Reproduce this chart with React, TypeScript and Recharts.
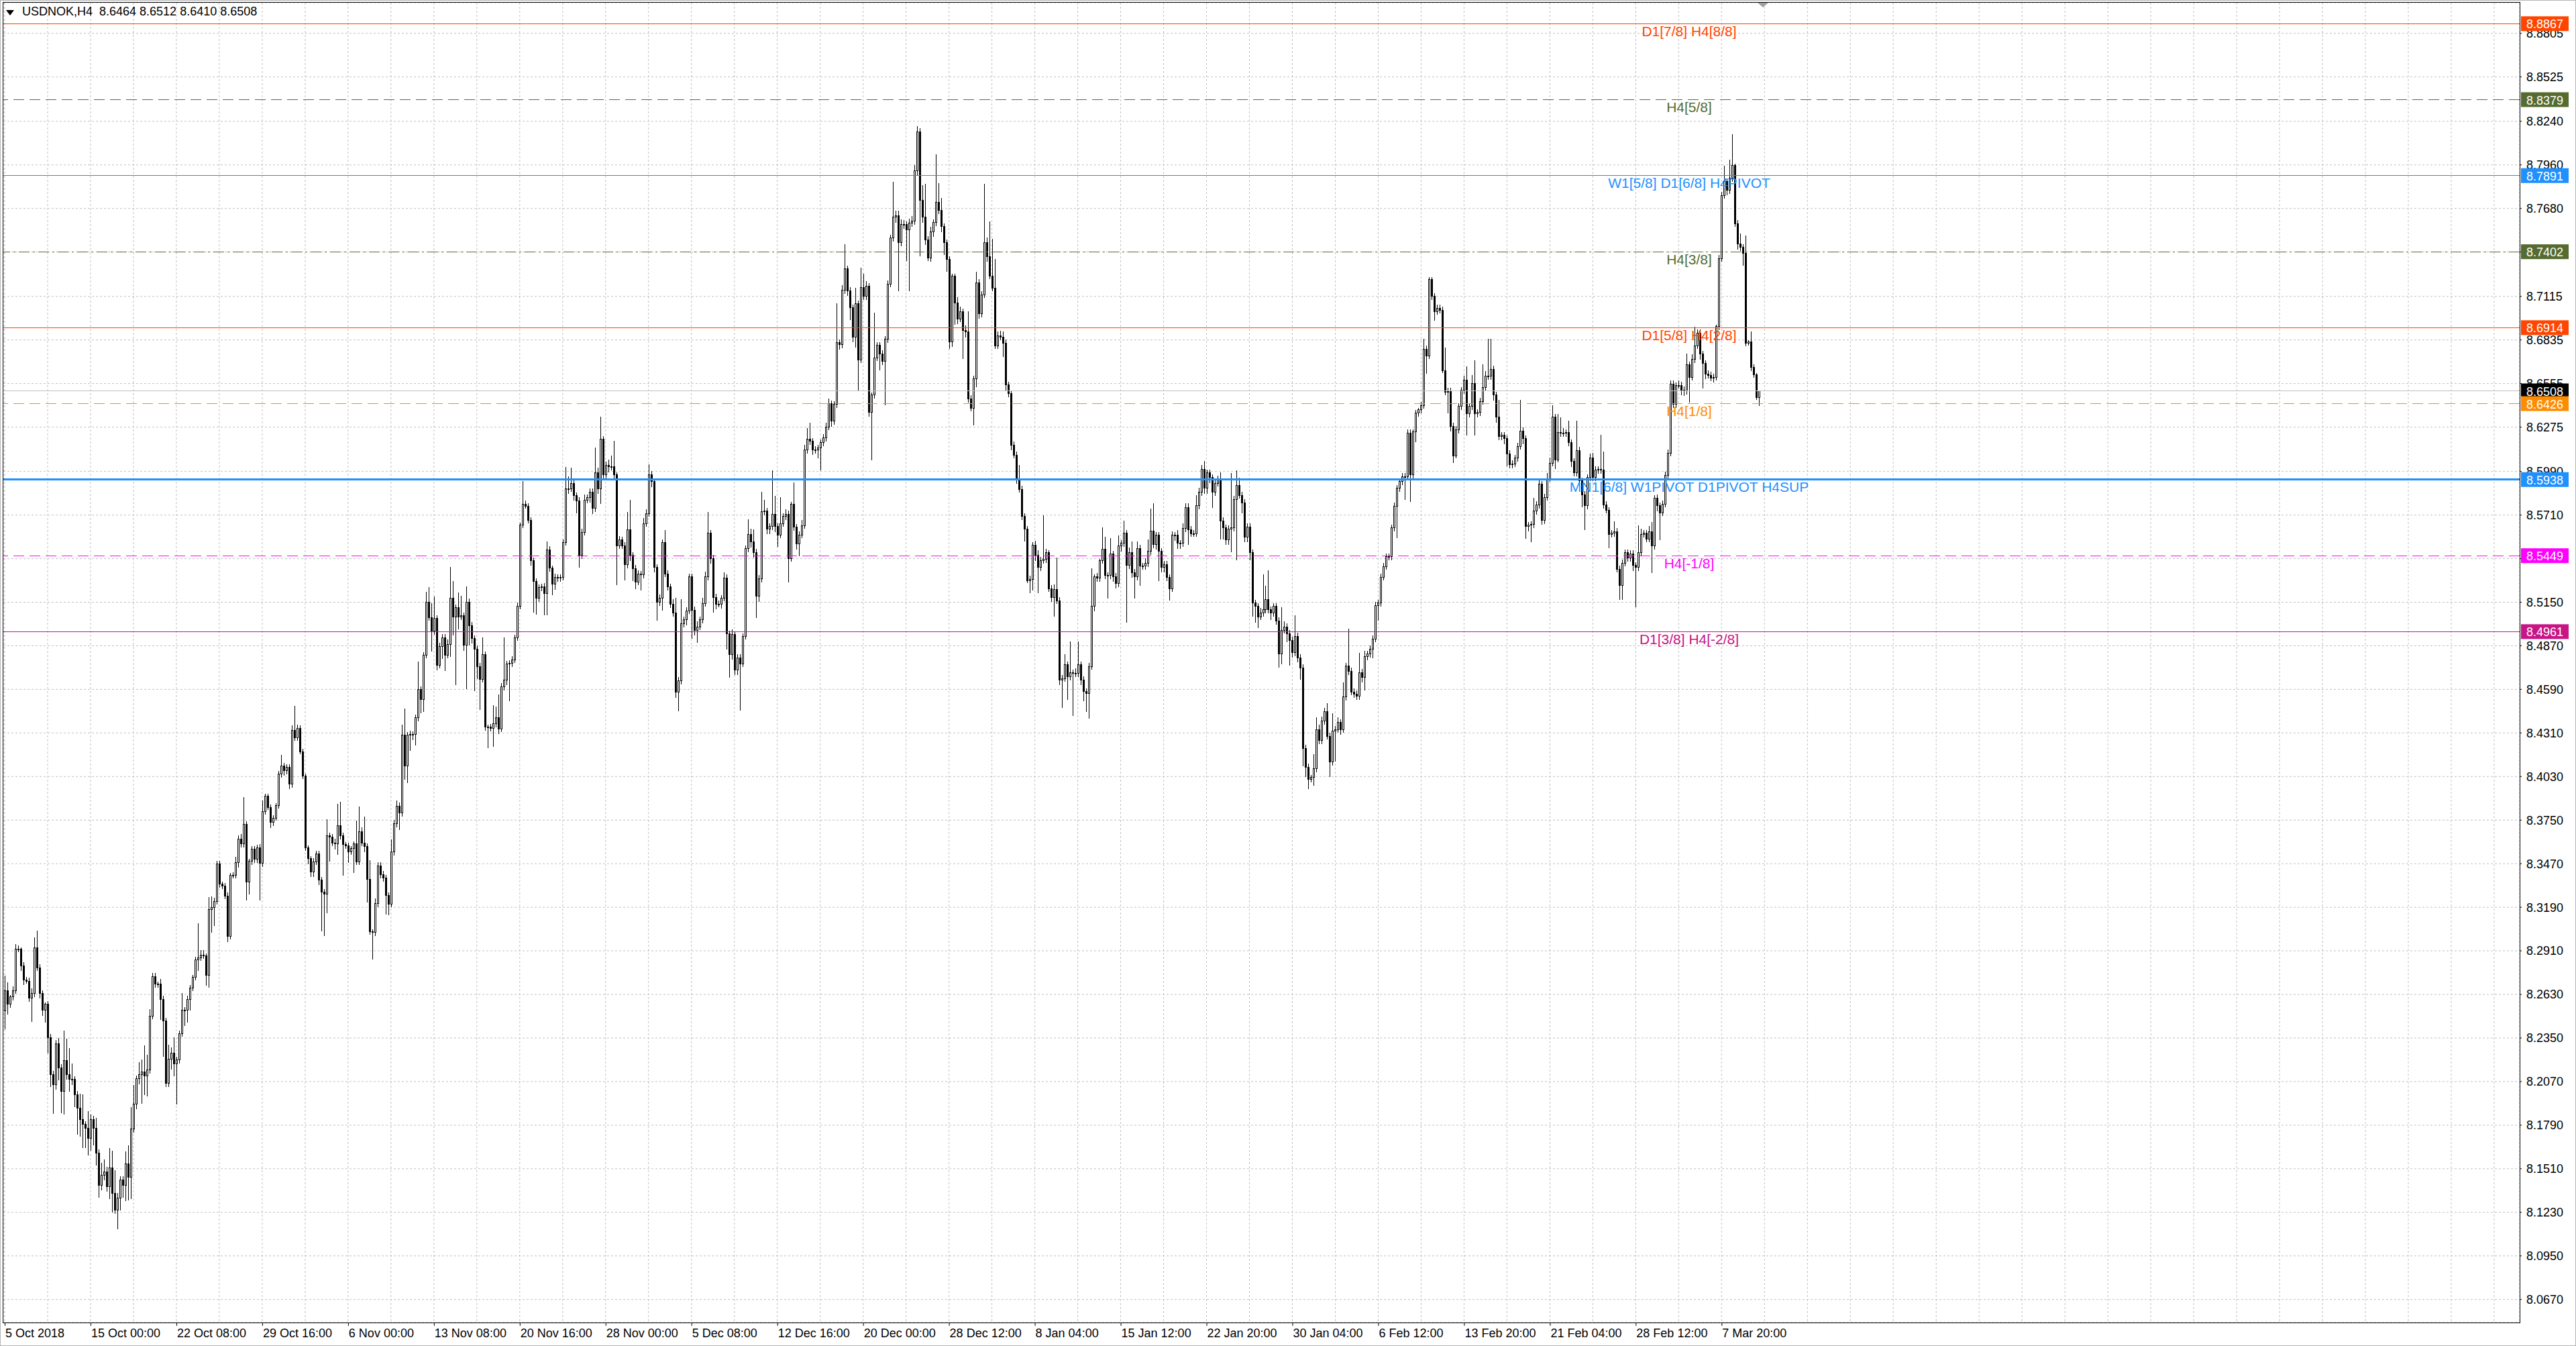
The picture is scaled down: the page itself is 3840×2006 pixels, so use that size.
import { ComposedChart, Bar, XAxis, YAxis, CartesianGrid, ReferenceLine } from 'recharts';

// USDNOK H4, 5 Oct 2018 .. 8 Mar 2019
// prices are kept in pips above 8.0000 (price = 8 + pips / 10000)
const firstOpenPips = 2523;

const closePips = [
  2652, 2566, 2613, 2656, 2920, 2920, 2813, 2723, 2716, 2605, 2637, 2931, 2802, 2637, 2528, 2566, 2352, 2116, 2051, 2315, // 0
  2159, 2008, 2206, 2116, 2084, 2084, 1987, 1901, 1826, 1794, 1772, 1704, 1826, 1772, 1612, 1404, 1468, 1489, 1397, 1515, // 20
  1350, 1243, 1322, 1440, 1404, 1541, 1457, 1766, 1927, 2088, 2116, 2133, 2105, 2144, 2491, 2744, 2695, 2695, 2598, 2459, // 40
  2058, 2216, 2255, 2186, 2208, 2377, 2528, 2528, 2598, 2669, 2738, 2851, 2866, 2881, 2877, 2755, 3177, 3188, 3227, 3467, // 60
  3338, 3328, 3263, 3002, 3396, 3396, 3478, 3628, 3596, 3724, 3353, 3484, 3564, 3499, 3574, 3473, 3804, 3902, 3832, 3735, // 80
  3763, 3842, 4046, 4100, 4068, 4089, 3982, 4325, 4278, 4340, 4190, 4035, 3574, 3501, 3418, 3483, 3535, 3366, 3287, 3276, // 100
  3648, 3643, 3603, 3596, 3716, 3648, 3592, 3587, 3546, 3569, 3596, 3483, 3677, 3603, 3580, 3371, 3035, 3028, 3213, 3456, // 120
  3400, 3377, 3265, 3208, 3546, 3727, 3840, 3795, 4295, 4099, 4295, 4302, 4300, 4408, 4588, 4527, 4809, 5148, 5053, 4963, // 140
  5046, 4746, 4866, 4922, 4809, 4877, 5175, 5057, 5114, 5057, 5062, 4872, 5152, 5001, 4918, 4850, 4737, 4656, 4814, 4347, // 160
  4347, 4340, 4370, 4408, 4336, 4607, 4652, 4753, 4757, 4780, 4922, 5125, 5644, 5779, 5768, 5677, 5418, 5283, 5175, 5244, // 180
  5249, 5204, 5486, 5368, 5265, 5310, 5305, 5310, 5535, 5880, 5880, 5914, 5835, 5801, 5452, 5599, 5806, 5824, 5858, 5752, // 200
  5982, 5880, 6198, 5967, 6030, 6020, 6023, 5967, 5514, 5553, 5514, 5390, 5616, 5451, 5366, 5281, 5332, 5326, 5656, 5721, // 220
  5971, 5924, 5376, 5149, 5178, 5533, 5332, 5248, 5135, 5080, 4571, 4646, 5011, 5036, 5096, 5313, 5100, 4971, 4991, 5036, // 240
  5143, 5313, 5593, 5431, 5182, 5139, 5139, 5178, 5307, 4946, 4814, 4942, 4715, 4794, 4755, 4932, 5494, 5587, 5537, 5470, // 260
  5188, 5301, 5731, 5735, 5622, 5636, 5715, 5636, 5583, 5656, 5701, 5715, 5431, 5780, 5632, 5524, 5583, 5642, 6129, 6198, // 280
  6184, 6129, 6129, 6141, 6176, 6206, 6277, 6425, 6313, 6421, 6819, 6805, 7154, 7292, 7150, 7042, 6855, 7068, 6707, 7174, // 300
  7115, 7180, 6372, 6480, 6721, 6800, 6747, 6697, 6839, 7194, 7490, 7623, 7633, 7460, 7576, 7576, 7543, 7584, 7597, 7924, // 320
  8174, 7731, 7623, 7478, 7362, 7530, 7589, 7718, 7666, 7563, 7460, 7352, 6824, 7246, 7074, 6971, 7015, 6894, 6886, 6456, // 340
  6396, 6584, 7203, 7004, 7125, 7460, 7370, 7246, 7169, 6798, 6860, 6855, 6816, 6546, 6489, 6159, 6095, 5933, 5876, 5701, // 360
  5619, 5289, 5297, 5515, 5451, 5374, 5418, 5425, 5469, 5237, 5181, 5232, 5160, 4652, 4660, 4748, 4671, 4696, 4691, 4691, // 380
  4748, 4652, 4575, 4562, 4737, 5124, 5314, 5304, 5418, 5490, 5322, 5322, 5459, 5314, 5271, 5510, 5528, 5593, 5387, 5469, // 400
  5340, 5314, 5495, 5381, 5381, 5399, 5477, 5606, 5521, 5580, 5477, 5374, 5392, 5309, 5237, 5580, 5580, 5528, 5528, 5624, // 420
  5760, 5617, 5591, 5591, 5771, 5855, 6002, 5881, 5980, 5951, 5855, 5914, 5942, 5672, 5628, 5552, 5622, 5628, 5811, 5898, // 440
  5837, 5789, 5569, 5635, 5468, 5145, 5123, 5057, 5079, 5101, 5167, 5101, 5079, 5123, 5029, 4816, 4970, 4991, 4948, 4904, // 460
  4827, 4932, 4794, 4728, 4212, 4091, 4014, 4024, 4079, 4330, 4260, 4387, 4449, 4289, 4124, 4322, 4333, 4377, 4333, 4541, // 480
  4739, 4706, 4574, 4559, 4546, 4699, 4669, 4800, 4816, 4849, 4915, 5130, 5145, 5310, 5380, 5442, 5442, 5628, 5767, 5881, // 500
  5925, 5958, 5958, 6237, 5969, 6244, 6364, 6386, 6415, 6775, 6733, 7225, 7115, 7018, 7040, 7027, 6638, 6500, 6505, 6280, // 520
  6089, 6258, 6408, 6511, 6579, 6360, 6408, 6557, 6360, 6369, 6441, 6529, 6602, 6602, 6646, 6481, 6339, 6214, 6222, 6201, // 540
  6104, 6032, 6039, 6076, 6152, 6251, 6201, 5637, 5644, 5648, 5736, 5775, 5907, 5674, 5823, 5944, 6043, 6339, 6065, 6240, // 560
  6236, 6236, 6240, 6174, 6054, 5981, 6126, 5929, 5841, 5769, 5950, 6076, 5950, 5999, 6003, 5999, 5775, 5740, 5587, 5593, // 580
  5604, 5363, 5258, 5402, 5468, 5433, 5461, 5385, 5374, 5468, 5586, 5593, 5556, 5604, 5512, 5819, 5769, 5725, 5780, 5966, // 600
  6108, 6551, 6420, 6543, 6543, 6514, 6508, 6674, 6595, 6711, 6799, 6880, 6744, 6683, 6617, 6608, 6591, 6595, 6920, 7358, // 620
  7764, 7852, 7797, 7874, 7955, 7582, 7451, 7429, 7391, 6815, 6821, 6658, 6613, 6464, 6508, // 640
];

// wick lengths above / below the body, in pips
const upperWickPips = [
  97, 54, 14, 25, 32, 25, 14, 22, 18, 22, 34, 64, 110, 22, 18, 14, 22, 22, 22, 22,
  34, 22, 190, 140, 170, 100, 22, 22, 90, 160, 22, 110, 34, 22, 64, 22, 80, 80, 34, 130,
  110, 150, 34, 22, 22, 80, 120, 140, 120, 22, 80, 80, 170, 100, 45, 25, 22, 18, 34, 22,
  22, 90, 34, 100, 22, 22, 110, 22, 22, 22, 18, 22, 220, 34, 34, 18, 80, 70, 22, 22,
  22, 18, 18, 22, 14, 18, 34, 22, 34, 175, 18, 18, 18, 18, 18, 22, 70, 18, 18, 18,
  18, 18, 18, 70, 18, 18, 18, 34, 160, 22, 18, 18, 14, 14, 18, 22, 18, 18, 18, 18,
  106, 22, 18, 28, 140, 150, 22, 18, 18, 14, 18, 150, 160, 28, 170, 22, 120, 14, 34, 22,
  22, 22, 22, 22, 80, 22, 34, 22, 70, 170, 22, 22, 18, 18, 180, 22, 18, 70, 100, 90,
  140, 22, 22, 22, 22, 34, 200, 110, 22, 100, 130, 22, 100, 22, 22, 18, 22, 22, 110, 18,
  18, 22, 120, 70, 150, 22, 270, 18, 18, 22, 18, 22, 18, 150, 22, 18, 18, 18, 18, 22,
  18, 22, 55, 22, 18, 22, 18, 18, 18, 140, 80, 100, 22, 22, 22, 22, 34, 18, 22, 22,
  160, 34, 144, 18, 22, 34, 70, 165, 18, 22, 18, 22, 115, 190, 22, 22, 22, 18, 34, 25,
  65, 22, 18, 18, 22, 18, 80, 22, 22, 34, 100, 22, 158, 22, 22, 22, 22, 22, 34, 22,
  34, 34, 138, 22, 22, 22, 22, 18, 34, 22, 22, 34, 22, 22, 22, 18, 22, 95, 34, 80,
  22, 22, 128, 71, 22, 22, 282, 120, 22, 170, 22, 34, 22, 14, 138, 22, 22, 34, 34, 69,
  105, 22, 22, 18, 18, 22, 26, 35, 22, 22, 250, 18, 34, 158, 22, 22, 22, 103, 22, 124,
  85, 34, 22, 18, 288, 22, 22, 22, 22, 22, 22, 230, 34, 34, 34, 28, 22, 28, 34, 34,
  33, 22, 100, 216, 22, 34, 22, 309, 124, 80, 22, 22, 22, 14, 14, 34, 34, 22, 34, 134,
  22, 22, 70, 22, 22, 379, 34, 227, 240, 188, 28, 34, 34, 22, 22, 22, 22, 22, 100, 22,
  22, 22, 22, 22, 28, 34, 22, 283, 22, 14, 22, 34, 206, 22, 22, 67, 22, 200, 22, 34,
  150, 22, 22, 22, 22, 242, 14, 22, 10, 142, 80, 22, 103, 22, 22, 70, 22, 82, 22, 34,
  72, 22, 46, 22, 22, 34, 77, 147, 180, 22, 22, 22, 22, 22, 22, 26, 22, 34, 22, 34,
  28, 28, 22, 22, 66, 28, 29, 55, 22, 22, 22, 22, 22, 44, 22, 22, 22, 350, 22, 97,
  53, 22, 22, 22, 22, 22, 22, 22, 34, 230, 88, 187, 22, 22, 22, 22, 147, 34, 22, 22,
  22, 136, 22, 22, 22, 22, 22, 18, 94, 81, 34, 28, 22, 53, 22, 114, 22, 34, 22, 92,
  22, 242, 22, 22, 22, 127, 22, 37, 22, 22, 22, 22, 22, 22, 22, 22, 22, 22, 22, 22,
  22, 22, 22, 22, 22, 15, 22, 11, 22, 68, 22, 13, 13, 22, 22, 22, 22, 147, 22, 22,
  22, 22, 22, 22, 26, 88, 22, 53, 147, 22, 22, 150, 34, 241, 197, 22, 22, 110, 22, 22,
  22, 22, 22, 22, 22, 197, 22, 22, 22, 22, 83, 22, 31, 22, 22, 34, 34, 77, 22, 121,
  96, 34, 22, 77, 22, 22, 191, 22, 22, 22, 22, 28, 34, 22, 22, 224, 121, 22, 22, 22,
  66, 22, 22, 22, 22, 22, 22, 22, 22, 175, 34, 22, 22, 34, 61, 18, 22, 22, 22, 22,
  22, 22, 22, 18, 31, 22, 22, 75, 22, 34, 121, 22, 22, 22, 22, 22, 22, 22, 14, 22,
  22, 103, 22, 121, 204, 14, 22, 66, 22, 116, 14, 70, 22, 10, 4,
];

const lowerWickPips = [
  118, 64, 22, 22, 22, 18, 34, 34, 18, 22, 150, 22, 22, 34, 34, 80, 100, 80, 190, 34,
  80, 140, 150, 34, 80, 34, 80, 170, 110, 150, 130, 110, 80, 110, 80, 80, 34, 34, 34, 80,
  120, 22, 120, 80, 80, 100, 150, 140, 22, 34, 34, 190, 120, 130, 22, 22, 22, 22, 130, 230,
  22, 22, 70, 80, 264, 22, 18, 100, 80, 70, 18, 18, 70, 22, 18, 70, 80, 150, 120, 18,
  22, 22, 22, 34, 18, 22, 22, 34, 22, 22, 120, 80, 22, 22, 22, 240, 22, 18, 18, 34,
  22, 18, 18, 22, 34, 22, 34, 22, 18, 18, 18, 22, 22, 34, 34, 34, 22, 34, 250, 270,
  124, 160, 22, 34, 70, 22, 200, 22, 70, 18, 160, 22, 22, 22, 34, 150, 22, 175, 22, 22,
  22, 22, 120, 70, 18, 22, 22, 110, 22, 90, 110, 100, 34, 70, 22, 90, 80, 18, 22, 130,
  22, 34, 22, 80, 100, 18, 80, 120, 440, 80, 22, 34, 280, 130, 34, 270, 80, 200, 22, 22,
  135, 22, 120, 22, 34, 22, 22, 34, 240, 22, 22, 22, 22, 18, 18, 22, 34, 200, 105, 22,
  22, 140, 140, 22, 70, 34, 22, 22, 22, 22, 34, 22, 34, 80, 80, 22, 22, 22, 34, 34,
  22, 34, 100, 34, 22, 34, 22, 22, 256, 22, 22, 100, 22, 34, 80, 47, 22, 100, 22, 22,
  22, 34, 34, 118, 22, 80, 22, 22, 22, 22, 34, 120, 22, 22, 34, 22, 187, 34, 80, 22,
  22, 22, 22, 34, 100, 34, 22, 28, 22, 100, 148, 34, 34, 34, 300, 22, 22, 22, 34, 34,
  138, 34, 22, 22, 34, 34, 22, 34, 79, 22, 22, 22, 154, 22, 22, 34, 80, 22, 22, 22,
  22, 34, 22, 55, 144, 22, 22, 22, 34, 22, 22, 34, 22, 22, 34, 80, 34, 70, 197, 22,
  22, 22, 28, 310, 22, 22, 108, 22, 280, 22, 22, 22, 34, 310, 22, 28, 200, 395, 22, 22,
  34, 360, 34, 34, 18, 22, 34, 22, 22, 34, 80, 80, 46, 34, 140, 34, 22, 180, 34, 22,
  18, 108, 52, 34, 22, 22, 34, 22, 22, 22, 22, 22, 90, 34, 22, 34, 22, 22, 22, 22,
  80, 18, 82, 70, 34, 167, 22, 22, 22, 22, 28, 124, 22, 34, 180, 22, 147, 22, 270, 22,
  22, 34, 59, 116, 160, 22, 34, 22, 22, 22, 22, 147, 22, 34, 34, 22, 34, 22, 368, 22,
  34, 139, 22, 124, 22, 22, 22, 22, 22, 34, 193, 34, 34, 22, 77, 22, 34, 34, 34, 22,
  22, 100, 22, 22, 22, 22, 22, 34, 34, 34, 100, 22, 22, 120, 77, 33, 34, 150, 22, 390,
  22, 66, 34, 34, 48, 88, 103, 72, 22, 22, 22, 22, 44, 22, 22, 88, 66, 22, 55, 160,
  34, 22, 28, 77, 114, 66, 66, 22, 55, 22, 22, 22, 22, 22, 99, 22, 198, 22, 34, 22,
  22, 22, 22, 22, 22, 22, 34, 88, 22, 22, 61, 22, 100, 22, 22, 22, 22, 22, 22, 204,
  22, 22, 150, 22, 176, 22, 66, 22, 22, 22, 116, 22, 22, 61, 22, 22, 15, 22, 136, 34,
  44, 14, 22, 22, 22, 138, 22, 22, 138, 22, 22, 22, 22, 22, 22, 34, 34, 22, 22, 34,
  80, 22, 22, 22, 22, 22, 34, 81, 34, 110, 22, 22, 22, 28, 22, 22, 22, 22, 61, 18,
  22, 22, 22, 22, 34, 22, 22, 34, 79, 154, 22, 22, 22, 22, 22, 22, 22, 18, 92, 22,
  22, 22, 92, 92, 22, 22, 22, 34, 257, 22, 22, 22, 22, 22, 175, 22, 34, 175, 22, 22,
  22, 22, 22, 22, 22, 34, 34, 22, 162, 22, 22, 22, 34, 158, 34, 22, 22, 28, 22, 22,
  22, 22, 34, 22, 22, 22, 34, 22, 81, 22, 14, 22, 22, 15, 54,
];

const timeLabels = [
  '5 Oct 2018', '15 Oct 00:00', '22 Oct 08:00', '29 Oct 16:00', '6 Nov 00:00', '13 Nov 08:00',
  '20 Nov 16:00', '28 Nov 00:00', '5 Dec 08:00', '12 Dec 16:00', '20 Dec 00:00', '28 Dec 12:00',
  '8 Jan 04:00', '15 Jan 12:00', '22 Jan 20:00', '30 Jan 04:00', '6 Feb 12:00', '13 Feb 20:00',
  '21 Feb 04:00', '28 Feb 12:00', '7 Mar 20:00',
];

const priceTicks = [
  8.067, 8.095, 8.123, 8.151, 8.179, 8.207, 8.235, 8.263, 8.291, 8.319, 8.347, 8.375, 8.403, 8.431, 8.459,
  8.487, 8.515, 8.543, 8.571, 8.599, 8.6275, 8.6555, 8.6835, 8.7115, 8.74, 8.768, 8.796, 8.824, 8.8525, 8.8805,
];

// murrey math levels drawn by the indicator
const levelPrices = [8.8867, 8.8379, 8.7891, 8.7402, 8.6914, 8.6426, 8.5938, 8.5449, 8.4961];
const levelNames = [
  'D1[7/8] H4[8/8]', 'H4[5/8]', 'W1[5/8] D1[6/8] H4PIVOT', 'H4[3/8]', 'D1[5/8] H4[2/8]',
  'H4[1/8]', 'MN1[6/8] W1PIVOT D1PIVOT H4SUP', 'H4[-1/8]', 'D1[3/8] H4[-2/8]',
];
const lastPrice = 8.6508;
const headerText = 'USDNOK,H4  8.6464 8.6512 8.6410 8.6508';

const levelStyles = [
  { color: '#FF4500', dash: undefined, width: 1 },
  { color: '#556B2F', dash: '16 8', width: 1 },
  { color: '#1E90FF', dash: undefined, width: 1 },
  { color: '#556B2F', dash: '16 5 3 5', width: 1 },
  { color: '#FF4500', dash: undefined, width: 1 },
  { color: '#FF8C00', dash: '16 8', width: 1 },
  { color: '#1E90FF', dash: undefined, width: 3 },
  { color: '#FF00FF', dash: '16 8', width: 1 },
  { color: '#C71585', dash: undefined, width: 1 },
];

const W = 3840;
const H = 2006;
const SLOTS = 938; // bars that fit the plot incl. the chart shift on the right
const FONT = '"Liberation Sans", Arial, sans-serif';
const Y_DOMAIN: [number, number] = [8.0522, 8.9002];

const toPrice = (p: number) => 8 + p / 10000;

const candles = closePips.map((c, i) => {
  const o = i === 0 ? firstOpenPips : closePips[i - 1];
  const hi = Math.max(o, c) + upperWickPips[i];
  const lo = Math.min(o, c) - lowerWickPips[i];
  return {
    i,
    open: toPrice(o),
    close: toPrice(c),
    high: toPrice(hi),
    low: toPrice(lo),
    range: [toPrice(lo), toPrice(hi)],
  };
});

const data: any[] = Array.from({ length: SLOTS }, (_, i) => candles[i] ?? { i, range: null });
const xTicks = Array.from({ length: Math.ceil(SLOTS / 16) }, (_, k) => k * 16);
const tagPrices = [lastPrice, ...levelPrices];

function Candle(props: any) {
  const { x, y, width, height, payload } = props;
  if (!payload || payload.open == null || !isFinite(y)) return <g />;
  const { open, close, high, low } = payload;
  const cx = Math.round(x + width / 2);
  const top = Math.min(y, y + height);
  const bottom = Math.max(y, y + height);
  const span = high - low;
  const toY = (v: number) => (span > 0 ? top + ((high - v) / span) * (bottom - top) : top);
  const yo = toY(open);
  const yc = toY(close);
  const bTop = Math.min(yo, yc);
  const bBot = Math.max(yo, yc);
  const bull = close >= open;
  return (
    <g shapeRendering="crispEdges">
      <line x1={cx + 0.5} x2={cx + 0.5} y1={top} y2={bottom} stroke="#000" strokeWidth={1} />
      <rect x={cx - 0.5} y={bTop} width={2} height={Math.max(1, bBot - bTop)} fill={bull ? '#fff' : '#000'} stroke="#000" strokeWidth={1} />
    </g>
  );
}

function TimeTick(props: any) {
  const { x, y, payload } = props;
  const idx = payload.value as number;
  const label = idx % 32 === 0 ? timeLabels[idx / 32] : undefined;
  if (!label) return <g />;
  return (
    <g>
      <line x1={x + 0.5} x2={x + 0.5} y1={y} y2={y + 5} stroke="#000" />
      <text x={x + 1} y={y + 16} fontSize={18} fontFamily={FONT} fill="#000" textAnchor="start" dominantBaseline="central">
        {label}
      </text>
    </g>
  );
}

// coloured price tag on the right scale, drawn by a mirrored axis so it sits above the scale labels
function PriceTag(props: any) {
  const { x, y, payload } = props;
  const price = payload.value as number;
  const k = levelPrices.indexOf(price);
  const color = k >= 0 ? levelStyles[k].color : '#000';
  return (
    <g>
      <rect x={x + 2} y={y - 11} width={71} height={22} fill={color} />
      <text x={x + 10} y={y + 1} fontSize={18} fontFamily={FONT} fill="#fff" dominantBaseline="central">
        {price.toFixed(4)}
      </text>
    </g>
  );
}

function LevelName(props: any) {
  const { viewBox, name, color } = props;
  if (!viewBox || !name) return null;
  return (
    <text x={2518} y={viewBox.y + 11} fontSize={21} fontFamily={FONT} fill={color} textAnchor="middle" dominantBaseline="central">
      {name}
    </text>
  );
}

export default function App() {
  return (
    <div style={{ position: 'relative', width: W, height: H, background: '#fff', overflow: 'hidden' }}>
      <style>{'body{margin:0}'}</style>
      <ComposedChart
        width={W}
        height={H}
        data={data}
        margin={{ top: 4, right: 0, bottom: 0, left: 5 }}
        barCategoryGap={0}
      >
        <CartesianGrid stroke="#C0C0C0" strokeDasharray="3 3" />
        <XAxis
          dataKey="i"
          type="category"
          ticks={xTicks}
          interval={0}
          height={35}
          tickSize={0}
          tickMargin={0}
          axisLine={false}
          tick={<TimeTick />}
        />
        <YAxis
          orientation="right"
          type="number"
          domain={Y_DOMAIN}
          allowDataOverflow
          ticks={priceTicks}
          interval={0}
          width={84}
          tickSize={3}
          tickMargin={7}
          axisLine={false}
          tickLine={{ stroke: '#000' }}
          tick={{ fill: '#000', fontSize: 18, fontFamily: FONT }}
          tickFormatter={(v: number) => v.toFixed(4)}
        />
        <YAxis
          yAxisId="tags"
          orientation="right"
          mirror
          type="number"
          domain={Y_DOMAIN}
          allowDataOverflow
          ticks={tagPrices}
          interval={0}
          tickSize={0}
          tickMargin={0}
          axisLine={false}
          tickLine={false}
          tick={<PriceTag />}
        />
        <ReferenceLine y={lastPrice} stroke="#C0C0C0" strokeWidth={1} shapeRendering="crispEdges" />
        {levelPrices.map((p, k) => (
          <ReferenceLine
            key={p}
            y={p}
            stroke={levelStyles[k].color}
            strokeWidth={levelStyles[k].width}
            strokeDasharray={levelStyles[k].dash}
            shapeRendering="crispEdges"
            label={<LevelName name={levelNames[k]} color={levelStyles[k].color} />}
          />
        ))}
        <Bar dataKey="range" shape={<Candle />} isAnimationActive={false} />
      </ComposedChart>
      <svg width={W} height={H} style={{ position: 'absolute', left: 0, top: 0, pointerEvents: 'none' }}>
        <rect x={0.5} y={0.5} width={W - 1} height={H - 1} fill="none" stroke="#B4B4B4" />
        <rect x={4.5} y={3.5} width={3752} height={1968} fill="none" stroke="#000" />
        <polygon points="9,15 21,15 15,23" fill="#000" />
        <text x={33} y={17} fontSize={18} fontFamily={FONT} fill="#000" dominantBaseline="central" style={{ whiteSpace: 'pre' }}>
          {headerText}
        </text>
        <polygon points="2620,4 2636,4 2628,11" fill="#A0A0A0" />
      </svg>
    </div>
  );
}
